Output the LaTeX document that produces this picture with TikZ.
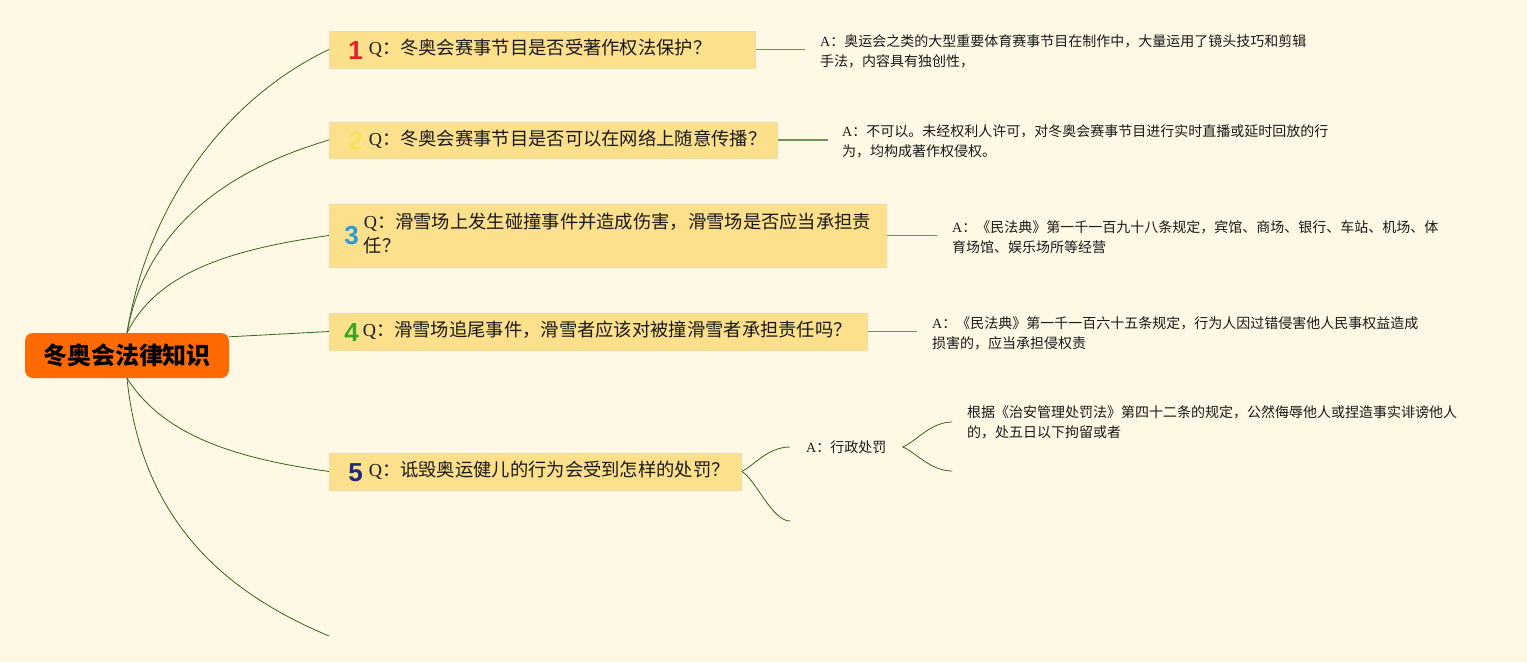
\documentclass[tikz,border=0pt]{standalone}
\usepackage{fontspec}
\setmainfont{Liberation Serif}
\newfontfamily\cjk{Noto Sans CJK SC}
\newfontfamily\digitfont{Liberation Sans}
\definecolor{bgc}{HTML}{FEF8E4}
\definecolor{rootc}{HTML}{FF6A00}
\definecolor{qfill}{HTML}{FDE08C}
\definecolor{qdraw}{HTML}{EEDBA6}
\definecolor{linkc}{HTML}{35661F}
\definecolor{lightlink}{HTML}{6E9450}
\definecolor{d1}{HTML}{E0202A}
\definecolor{d2}{HTML}{F5E35C}
\definecolor{d3}{HTML}{2A9BD8}
\definecolor{d4}{HTML}{3AA52A}
\definecolor{d5}{HTML}{1F2B7A}
\newcommand{\dig}[2]{$\vcenter{\hbox{\digitfont\bfseries\fontsize{26}{26}\selectfont\color{#1}#2}}$}
\begin{document}
\begin{tikzpicture}[x=1pt,y=-1pt,
  rootbox/.style={fill=rootc, rounded corners=8pt, minimum width=204pt, minimum height=45pt, inner sep=0pt,
    font=\cjk\bfseries\fontsize{24}{28}\selectfont, text=black},
  qbox/.style={fill=qfill, draw=qdraw, line width=0.8pt, anchor=west, inner xsep=19pt, inner ysep=0pt,
    align=left, font=\cjk\fontsize{18.3}{24}\selectfont, text=black!90},
  ans/.style={anchor=west, inner xsep=0pt, inner ysep=0pt, align=left,
    font=\cjk\fontsize{14}{20}\selectfont, text=black!90},
  link/.style={draw=linkc, line width=0.8pt},
  shortlink/.style={draw=lightlink, line width=1.3pt},
]
\fill[bgc] (0,0) rectangle (1527,662);
\useasboundingbox (0,0) rectangle (1527,662);

% root
\node[rootbox] (root) at (127,355.5) {冬奥会法律知识};

% questions
\node[qbox, minimum width=426pt, minimum height=37pt, text width=388pt] (q1) at (329,49.5)
  {\dig{d1}{1}\hspace{6pt}{\rmfamily Q}：冬奥会赛事节目是否受著作权法保护？};
\node[qbox, minimum width=448pt, minimum height=36pt, text width=410pt] (q2) at (329,140)
  {\dig{d2}{2}\hspace{6pt}{\rmfamily Q}：冬奥会赛事节目是否可以在网络上随意传播？};
\node[qbox, inner xsep=15pt, minimum width=557pt, minimum height=63pt, text width=527pt] (q3) at (329,235.5)
  {\dig{d3}{3}\hspace{5pt}$\vcenter{\hbox{\begin{tabular}{@{}l@{}}{\rmfamily Q}：滑雪场上发生碰撞事件并造成伤害，滑雪场是否应当承担责\\任？\end{tabular}}}$};
\node[qbox, inner xsep=15pt, minimum width=538pt, minimum height=37pt, text width=508pt] (q4) at (329,331.5)
  {\dig{d4}{4}\hspace{4pt}{\rmfamily Q}：滑雪场追尾事件，滑雪者应该对被撞滑雪者承担责任吗？};
\node[qbox, minimum width=412pt, minimum height=37pt, text width=374pt] (q5) at (329,471.5)
  {\dig{d5}{5}\hspace{6pt}{\rmfamily Q}：诋毁奥运健儿的行为会受到怎样的处罚？};

% answers
\node[ans] (a1) at (820,51) {{\rmfamily A}：奥运会之类的大型重要体育赛事节目在制作中，大量运用了镜头技巧和剪辑\\手法，内容具有独创性，};
\node[ans] (a2) at (842,141) {{\rmfamily A}：不可以。未经权利人许可，对冬奥会赛事节目进行实时直播或延时回放的行\\为，均构成著作权侵权。};
\node[ans] (a3) at (952,237) {{\rmfamily A}：《民法典》第一千一百九十八条规定，宾馆、商场、银行、车站、机场、体\\育场馆、娱乐场所等经营};
\node[ans] (a4) at (932,333) {{\rmfamily A}：《民法典》第一千一百六十五条规定，行为人因过错侵害他人民事权益造成\\损害的，应当承担侵权责};
\node[ans, inner xsep=16pt] (a5) at (790,447) {{\rmfamily A}：行政处罚};
\node[ans, inner xsep=15pt] (a6) at (952,422) {根据《治安管理处罚法》第四十二条的规定，公然侮辱他人或捏造事实诽谤他人\\的，处五日以下拘留或者};

\coordinate (e0) at (329,636);
\coordinate (e1) at (790,521);
\coordinate (e2) at (952,471);

% root connectors
\draw[link] (root.north) .. controls +(25,-150) and +(-85,40) .. (q1.west);
\draw[link] (root.north) .. controls +(20,-110) and +(-95,28) .. (q2.west);
\draw[link] (root.north) .. controls +(30,-60) and +(-100,14) .. (q3.west);
\draw[link] ([yshift=-4pt]root.north east) -- (q4.west);
\draw[link] (root.south) .. controls +(35,55) and +(-100,-14) .. (q5.west);
\draw[link] (root.south) .. controls +(15,150) and +(-95,-40) .. (e0);

% answer connectors
\draw[shortlink, shorten >=15pt] (q1.east) -- (q1.east -| a1.west);
\draw[shortlink, shorten >=14pt] (q2.east) -- (q2.east -| a2.west);
\draw[shortlink, shorten >=15pt] (q3.east) -- (q3.east -| a3.west);
\draw[shortlink, shorten >=15pt] (q4.east) -- (q4.east -| a4.west);

% branch 5
\draw[link] (q5.east) .. controls +(12,-6) and +(-22,0) .. (a5.west);
\draw[link] (q5.east) .. controls +(14,8) and +(-18,0) .. (e1);
\draw[link] (a5.east) .. controls +(12,-4) and +(-22,0) .. (a6.west);
\draw[link] (a5.east) .. controls +(12,4) and +(-22,0) .. (e2);
\end{tikzpicture}
\end{document}
